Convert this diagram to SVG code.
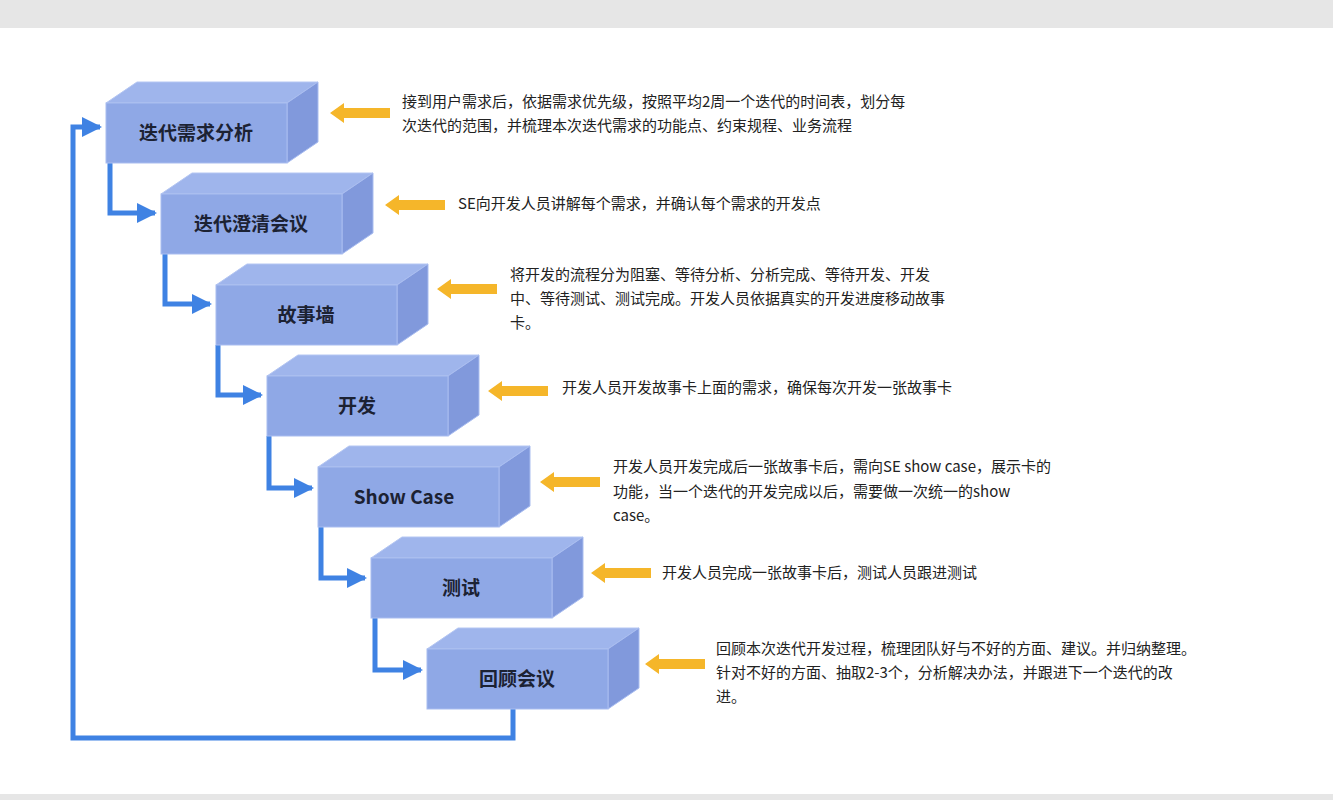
<svg xmlns="http://www.w3.org/2000/svg" width="1333" height="800" viewBox="0 0 1333 800">
<defs>
<style>
.front{fill:#8fa8e6;stroke:#a9bdf0;stroke-width:1}
.top{fill:#9fb5ec;stroke:#b4c6f2;stroke-width:1}
.side{fill:#8199dc;stroke:#a9bdf0;stroke-width:1}
.lbl{font-family:"Noto Sans CJK SC","Noto Sans",sans-serif;font-size:19px;font-weight:bold;fill:#1c2233;text-anchor:middle}
.desc{font-family:"Noto Sans CJK SC","Noto Sans",sans-serif;font-size:15px;fill:#222}
.conn{fill:none;stroke:#3f82e3;stroke-width:5}
.ya{fill:#f5b62a}
</style>
<marker id="ah" viewBox="0 0 10 10" refX="9" refY="5" markerWidth="4" markerHeight="4" orient="auto"><path d="M0,0L10,5L0,10z" fill="#3f82e3"/></marker>
<g id="box"><polygon class="top" points="0,0 31,-21 212,-21 181,0"/><polygon class="side" points="181,0 212,-21 212,39 181,60"/><rect class="front" x="0" y="0" width="181" height="60"/></g>
<g id="yarr"><polygon class="ya" points="0,0 14,-10 14,-5 60,-5 60,5 14,5 14,10"/></g>
</defs>
<rect width="1333" height="800" fill="#fff"/>
<rect width="1333" height="28" fill="#e6e6e6"/>
<rect y="794" width="1333" height="6" fill="#e6e6e6"/>
<g id="connectors">
<path class="conn" marker-end="url(#ah)" d="M110,163V213H155"/>
<path class="conn" marker-end="url(#ah)" d="M165,254V304H210"/>
<path class="conn" marker-end="url(#ah)" d="M218,345V395H261"/>
<path class="conn" marker-end="url(#ah)" d="M269,436V488H312"/>
<path class="conn" marker-end="url(#ah)" d="M321,527V578H365"/>
<path class="conn" marker-end="url(#ah)" d="M375,618V670H421"/>
<path class="conn" marker-end="url(#ah)" d="M513,709V738H73V127H100" stroke-width="7"/>
</g>
<g id="n1"><use href="#box" x="106" y="103"/><text class="lbl" x="196" y="140">迭代需求分析</text><use href="#yarr" x="330" y="113"/>
<text class="desc" x="402" y="107">接到用户需求后，依据需求优先级，按照平均2周一个迭代的时间表，划分每</text><text class="desc" x="402" y="131">次迭代的范围，并梳理本次迭代需求的功能点、约束规程、业务流程</text></g>
<g id="n2"><use href="#box" x="161" y="194"/><text class="lbl" x="251" y="231">迭代澄清会议</text><use href="#yarr" x="385" y="205"/>
<text class="desc" x="458" y="209">SE向开发人员讲解每个需求，并确认每个需求的开发点</text></g>
<g id="n3"><use href="#box" x="216" y="285"/><text class="lbl" x="306" y="322">故事墙</text><use href="#yarr" x="437" y="289"/>
<text class="desc" x="510" y="280">将开发的流程分为阻塞、等待分析、分析完成、等待开发、开发</text><text class="desc" x="510" y="304">中、等待测试、测试完成。开发人员依据真实的开发进度移动故事</text><text class="desc" x="510" y="328">卡。</text></g>
<g id="n4"><use href="#box" x="267" y="376"/><text class="lbl" x="357" y="413">开发</text><use href="#yarr" x="488" y="391"/>
<text class="desc" x="562" y="393">开发人员开发故事卡上面的需求，确保每次开发一张故事卡</text></g>
<g id="n5"><use href="#box" x="318" y="467"/><text class="lbl" x="404" y="504">Show Case</text><use href="#yarr" x="540" y="482"/>
<text class="desc" x="613" y="472">开发人员开发完成后一张故事卡后，需向SE show case，展示卡的</text><text class="desc" x="613" y="497">功能，当一个迭代的开发完成以后，需要做一次统一的show</text><text class="desc" x="613" y="521">case。</text></g>
<g id="n6"><use href="#box" x="371" y="558"/><text class="lbl" x="461" y="595">测试</text><use href="#yarr" x="591" y="573"/>
<text class="desc" x="662" y="578">开发人员完成一张故事卡后，测试人员跟进测试</text></g>
<g id="n7"><use href="#box" x="427" y="649"/><text class="lbl" x="517" y="686">回顾会议</text><use href="#yarr" x="645" y="664"/>
<text class="desc" x="716" y="654">回顾本次迭代开发过程，梳理团队好与不好的方面、建议。并归纳整理。</text><text class="desc" x="716" y="678">针对不好的方面、抽取2-3个，分析解决办法，并跟进下一个迭代的改</text><text class="desc" x="716" y="702">进。</text></g>
</svg>
